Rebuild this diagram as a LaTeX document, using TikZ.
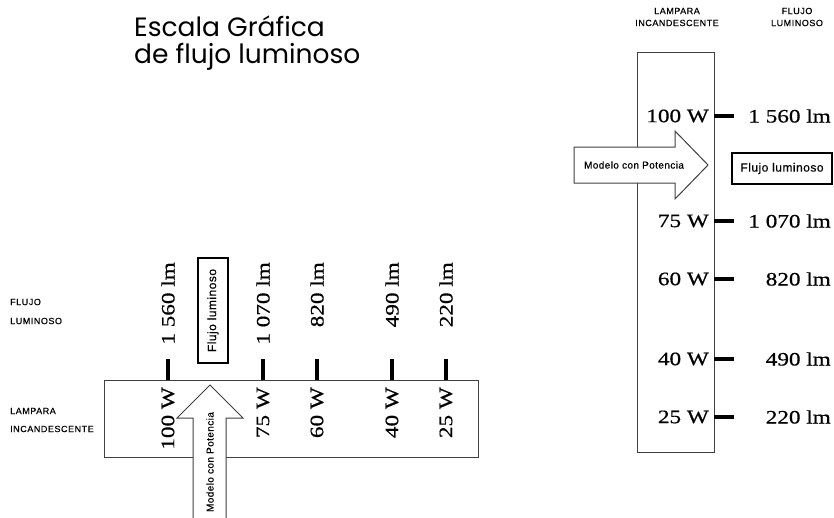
\documentclass[tikz,border=0pt]{standalone}
\usepackage{fontspec}
\newfontfamily\valfont{Liberation Serif}[FakeStretch=1.22, FakeBold=0.6]
\newfontfamily\tagfont{Liberation Sans}[LetterSpace=6, FakeBold=0.5]
\newfontfamily\boxfont{Liberation Sans}[LetterSpace=4, FakeBold=0.3]
\newfontfamily\titlefont{Poppins}
\usetikzlibrary{positioning}
\tikzset{
  every picture/.style={line cap=butt, line join=miter},
  % boxes and ticks of the two scales
  scalebox/.style={draw=black!75, line width=1pt, inner sep=0pt},
  scaletick/.style={line width=4pt},
  fluxbox/.style={draw, line width=2pt, inner sep=0pt, font=\boxfont\fontsize{12}{14}\selectfont},
  powerarrow/.style={draw=black!75, line width=1pt, fill=white},
  % texts
  val/.style={inner sep=0pt, font=\valfont\fontsize{19}{21}\selectfont},
  tag/.style={inner sep=0pt, font=\tagfont\fontsize{9}{12}\selectfont},
  arrowtag/.style={inner sep=0pt, font=\boxfont\fontsize{10}{12}\selectfont},
  heading/.style={inner sep=0pt, anchor=base west, font=\titlefont\fontsize{26.5}{30}\selectfont},
}

\begin{document}
\begin{tikzpicture}[x=1pt, y=-1pt]
  \useasboundingbox (0,0) rectangle (834,517);
  % ---- title
  \node[heading] (title1) at (134,36) {Escala Gráfica};
  \node[heading] (title2) at (134,63) {de flujo luminoso};

  % ---- horizontal scale (bottom left)
  \node[tag, anchor=west, align=left, font=\tagfont\fontsize{9}{19}\selectfont] (hflujo) at (10,311.5) {FLUJO\\LUMINOSO};
  \node[tag, anchor=west, align=left, font=\tagfont\fontsize{9}{18}\selectfont] (hlamp) at (10,420) {LAMPARA\\INCANDESCENTE};
  \node[scalebox, minimum width=374, minimum height=77] (hbox) at (291,418.5) {};
  \foreach \x/\w/\lm [count=\i] in {168/100/1 560, 263/75/1 070, 317/60/820, 392/40/490, 446/25/220} {
    \coordinate (ht\i) at (\x,380);
    \draw[scaletick] (ht\i) -- ++(0,-21);
    \node[val, rotate=90, anchor=east] (hlm\i) at (\x,262) {\lm~lm};
    \node[val, rotate=90, anchor=east] (hw\i) at (\x,387) {\w~W};
  }
  \node[fluxbox, rotate=90, minimum width=105, minimum height=30] (hflux) at (213,310.5) {Flujo luminoso};
  \draw[powerarrow] (193,520) -- (193,418) -- (177,418) -- (210,385) -- (243,418) -- (226,418) -- (226,520);
  \node[arrowtag, rotate=90] (harrow) at (210,462) {Modelo con Potencia};

  % ---- vertical scale (right)
  \node[tag, align=center] (vlamp) at (677,17) {LAMPARA\\INCANDESCENTE};
  \node[tag, align=center] (vflujo) at (797,17) {FLUJO\\LUMINOSO};
  \node[scalebox, minimum width=77, minimum height=400] (vbox) at (675.5,252) {};
  \foreach \y/\w/\lm [count=\i] in {116/100/1 560, 221/75/1 070, 279/60/820, 359/40/490, 417/25/220} {
    \coordinate (vt\i) at (714,\y);
    \draw[scaletick] (vt\i) -- ++(20,0);
    \node[val, anchor=east] (vw\i) at (709,\y) {\w~W};
    \node[val, anchor=east] (vlm\i) at (831,\y) {\lm~lm};
  }
  \draw[powerarrow] (574,147) -- (675,147) -- (675,131) -- (708,165) -- (675,199) -- (675,183) -- (574,183) -- cycle;
  \node[arrowtag] (varrow) at (634,165) {Modelo con Potencia};
  \node[fluxbox, minimum width=100, minimum height=31] (vflux) at (782,168.5) {Flujo luminoso};
\end{tikzpicture}
\end{document}
